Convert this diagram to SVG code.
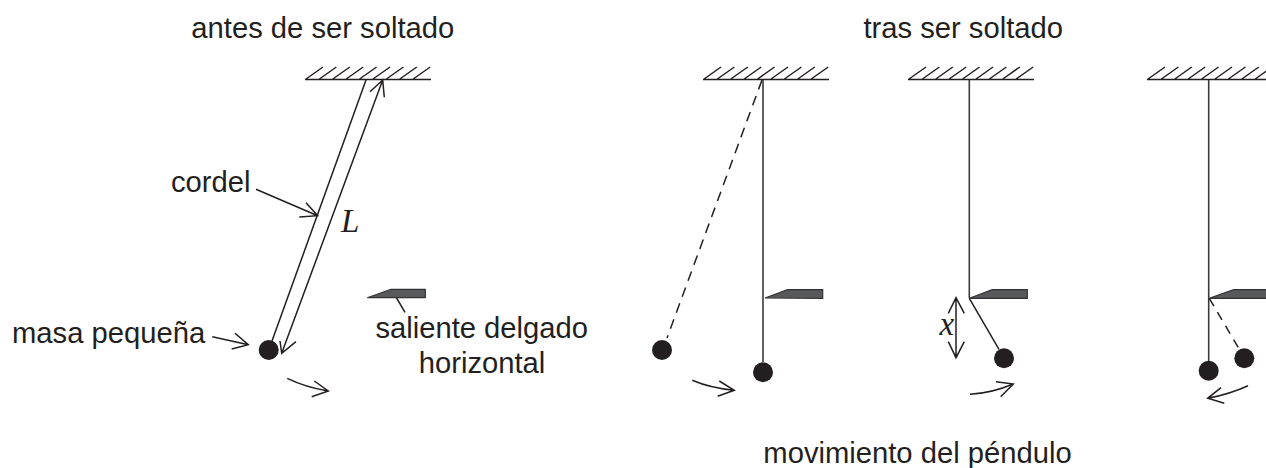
<svg xmlns="http://www.w3.org/2000/svg" xmlns:xlink="http://www.w3.org/1999/xlink" width="1266" height="468" viewBox="0 0 1266 468">
<style>
text{font-family:"Liberation Sans",Arial,sans-serif;font-size:29.2px;fill:#231f20}
.m{text-anchor:middle}
.v{font-family:"Liberation Serif","Times New Roman",serif;font-style:italic;font-size:33px}
.l,.hatch path{fill:none;stroke:#231f20;stroke-width:1.5}
.s{fill:none;stroke:#3a3a3c;stroke-width:1.6}
.d{fill:none;stroke:#231f20;stroke-width:1.5;stroke-dasharray:10 7}
.b{fill:#231f20}
.shelf{fill:#58595b;stroke:#333335;stroke-width:1.2;stroke-linejoin:miter}
</style>
<defs>
<g id="ceil" class="hatch"><path d="M0 79.5H126M1 79 18 67M14.4 79 31.4 67M27.8 79 44.8 67M41.2 79 58.2 67M54.6 79 71.6 67M68 79 85 67M81.4 79 98.4 67M94.8 79 111.8 67M108.2 79 125.2 67"/></g>
</defs>
<g id="ceiling-1"><use xlink:href="#ceil" x="305"/></g>
<g id="ceiling-2"><use xlink:href="#ceil" x="703"/></g>
<g id="ceiling-3"><use xlink:href="#ceil" x="908"/></g>
<g id="ceiling-4"><use xlink:href="#ceil" x="1147"/></g>

<g id="connectors">
<path class="l" d="M366 80 272 341"/>
<path class="l" d="M382.7 80 281.7 353.3M370 91.7 382.7 80 384.3 97.3M296 341.7 281.7 353.3 280 341"/>
<path class="l" d="M256 189.3 317.7 215.7M306 202.7 317.7 215.7 299.3 217"/>
<path class="l" d="M212.3 336.7 248.3 344.7M235 333.3 248.3 344.7 231.7 349"/>
<path class="l" d="M287.3 378.3Q305 387 328.3 391M314.3 381 328.3 391 311.7 396.7"/>
<path class="l" d="M394.3 294 405 312.3"/>
<path class="d" d="M762 80 667 338"/>
<path class="s" d="M763 80V362"/>
<path class="l" d="M692.3 380.3Q710 388 734.3 390.3M719.3 381 734.3 390.3 717.7 396.3"/>
<path class="s" d="M969.3 80V298"/>
<path class="l" d="M969.3 298.3 999 349.3"/>
<path class="l" d="M956 297.7V357.7M948.3 313.3 956 297.7 964.3 313.3M948.3 341.7 956 357.7 964.3 341.7"/>
<path class="l" d="M970 394.3Q992 393 1013.3 384M996 381.7 1013.3 384 1000.7 396.7"/>
<path class="s" d="M1208.7 80V362"/>
<path class="d" d="M1209.3 298.3 1239.3 349.3" style="stroke-dasharray:9 7"/>
<path class="l" d="M1248 385.7Q1230 394 1207.7 398.3M1221 387.7 1207.7 398.3 1224.3 403.3"/>
</g>

<g id="shelf-1"><path class="shelf" d="M367.3 297.7 391 289.3H425.3V297.7Z"/></g>
<g id="shelf-2"><path class="shelf" d="M765 298 787.7 289.7H822.7V298.3Z"/></g>
<g id="shelf-3"><path class="shelf" d="M969.3 298.3 992.3 289.7H1027.3V298.3Z"/></g>
<g id="shelf-4"><path class="shelf" d="M1209.3 298.3 1233.7 289.7H1270V298.3Z"/></g>

<g id="mass-1"><circle class="b" cx="268.7" cy="350" r="10"/></g>
<g id="mass-2a"><circle class="b" cx="662" cy="350" r="10"/></g>
<g id="mass-2b"><circle class="b" cx="763" cy="372.3" r="10"/></g>
<g id="mass-3"><circle class="b" cx="1004" cy="358.3" r="10"/></g>
<g id="mass-4a"><circle class="b" cx="1208.7" cy="370.7" r="10"/></g>
<g id="mass-4b"><circle class="b" cx="1244.3" cy="358.3" r="10"/></g>

<g id="labels">
<text class="m" x="322.8" y="37.5">antes de ser soltado</text>
<text class="m" x="963.2" y="37.5">tras ser soltado</text>
<text x="171" y="192">cordel</text>
<text x="12" y="343">masa pequeña</text>
<text class="m" x="481.7" y="338">saliente delgado</text>
<text class="m" x="482" y="373">horizontal</text>
<text class="m" x="917.5" y="463">movimiento del péndulo</text>
<text class="v" x="341" y="232">L</text>
<text class="v" x="939.5" y="335">x</text>
</g>
</svg>
